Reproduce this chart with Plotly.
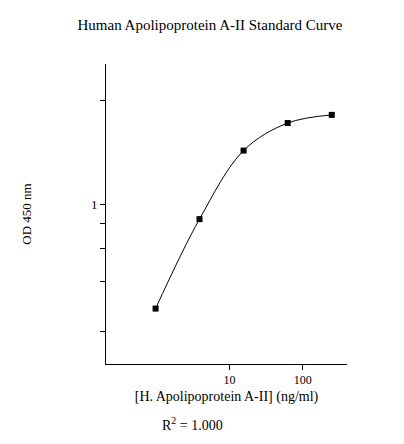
import plotly.graph_objects as go

conc = [0.98, 3.9, 15.6, 62.5, 250]
od = [0.30, 0.84, 1.85, 2.54, 2.79]
y_ticks = [0.23, 0.41, 0.6, 0.8, 1, 3.3]
y_labels = ["", "", "", "", "1", ""]
x_ticks = [10, 100]

font = dict(family="Liberation Serif", size=13, color="black")

fig = go.Figure(go.Scatter(
    x=conc, y=od, mode="lines+markers",
    line=dict(color="black", width=1, shape="spline", smoothing=1.0),
    marker=dict(symbol="square", size=6, color="black"),
))

fig.update_layout(
    width=404, height=444, plot_bgcolor="white", paper_bgcolor="white",
    margin=dict(l=98, r=65, t=56, b=88), showlegend=False, font=font,
    title=dict(text="Human Apolipoprotein A-II Standard Curve", x=0.5, xanchor="center",
               y=0.963, yanchor="middle", font=dict(family="Liberation Serif", size=15)),
    xaxis=dict(type="log", range=[-0.686, 2.606], tickvals=x_ticks, ticktext=["10", "100"],
               showgrid=False, zeroline=False, showline=True, linecolor="black", linewidth=1,
               ticks="outside", ticklen=5, tickcolor="black", tickfont=dict(size=12),
               title=dict(text="[H. Apolipoprotein A-II] (ng/ml)", standoff=4,
                          font=dict(size=14))),
    yaxis=dict(type="log", range=[-0.8, 0.7], tickvals=y_ticks, ticktext=y_labels,
               showgrid=False, zeroline=False, showline=True, linecolor="black", linewidth=1,
               ticks="outside", ticklen=5, tickcolor="black", tickfont=dict(size=13),
               title=dict(text="OD 450 nm", standoff=56, font=dict(size=13))),
)

fig.add_annotation(text="R<sup>2</sup> = 1.000", xref="paper", yref="paper",
                   x=0.36, y=-0.2, xanchor="center", yanchor="middle",
                   showarrow=False, font=dict(size=14))

fig.write_html("out.html")
